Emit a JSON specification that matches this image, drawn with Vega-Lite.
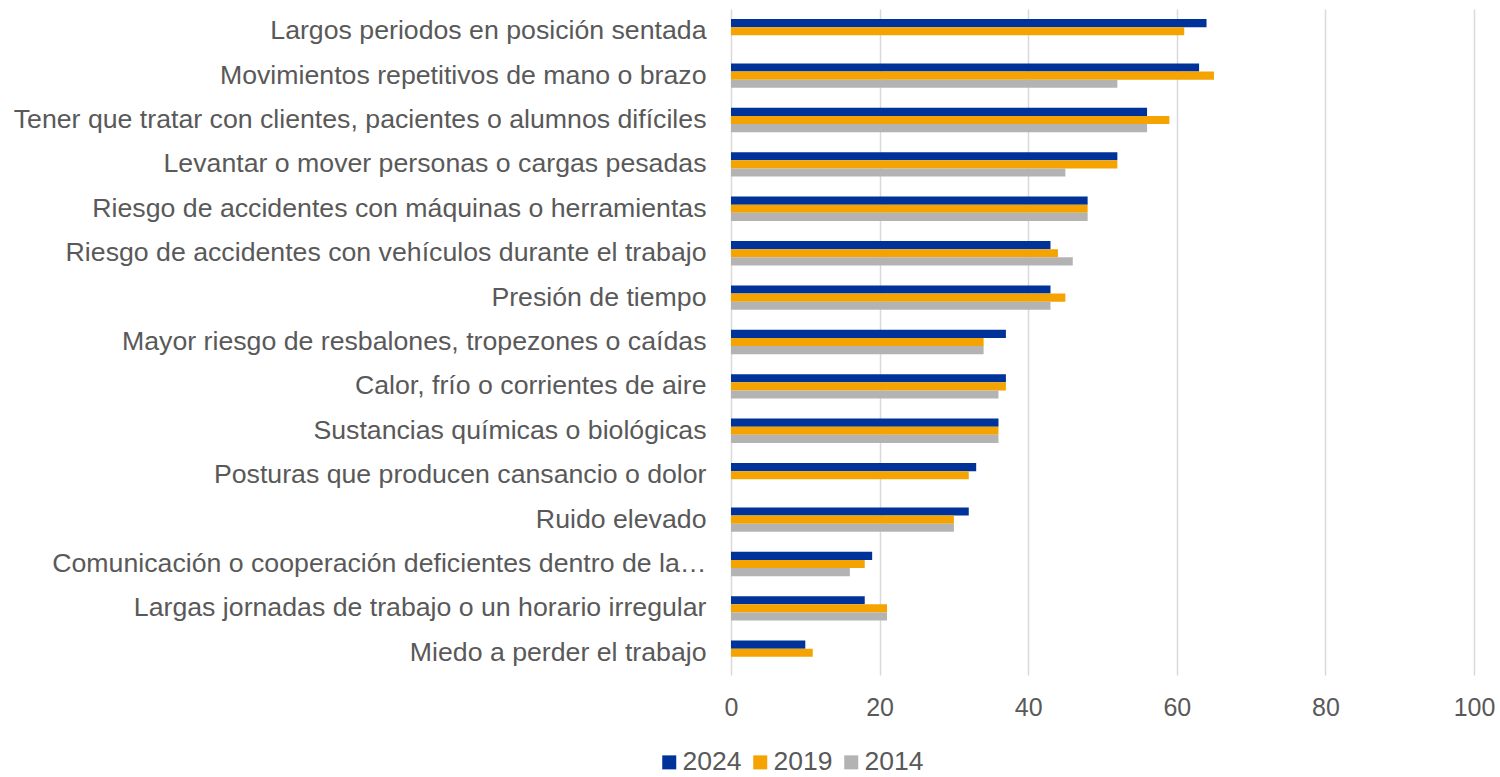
{
  "$schema": "https://vega.github.io/schema/vega-lite/v6.json",
  "autosize": {"type": "none"},
  "padding": {"left": 731, "top": 9, "right": 26, "bottom": 102},
  "width": 743,
  "height": 666,
  "background": "white",
  "config": {
    "view": {"stroke": null},
    "font": "Liberation Sans"
  },
  "data": {
    "values": [
      {"cat": "Largos periodos en posición sentada", "year": "2024", "value": 64},
      {"cat": "Largos periodos en posición sentada", "year": "2019", "value": 61},
      {"cat": "Movimientos repetitivos de mano o brazo", "year": "2024", "value": 63},
      {"cat": "Movimientos repetitivos de mano o brazo", "year": "2019", "value": 65},
      {"cat": "Movimientos repetitivos de mano o brazo", "year": "2014", "value": 52},
      {"cat": "Tener que tratar con clientes, pacientes o alumnos difíciles", "year": "2024", "value": 56},
      {"cat": "Tener que tratar con clientes, pacientes o alumnos difíciles", "year": "2019", "value": 59},
      {"cat": "Tener que tratar con clientes, pacientes o alumnos difíciles", "year": "2014", "value": 56},
      {"cat": "Levantar o mover personas o cargas pesadas", "year": "2024", "value": 52},
      {"cat": "Levantar o mover personas o cargas pesadas", "year": "2019", "value": 52},
      {"cat": "Levantar o mover personas o cargas pesadas", "year": "2014", "value": 45},
      {"cat": "Riesgo de accidentes con máquinas o herramientas", "year": "2024", "value": 48},
      {"cat": "Riesgo de accidentes con máquinas o herramientas", "year": "2019", "value": 48},
      {"cat": "Riesgo de accidentes con máquinas o herramientas", "year": "2014", "value": 48},
      {"cat": "Riesgo de accidentes con vehículos durante el trabajo", "year": "2024", "value": 43},
      {"cat": "Riesgo de accidentes con vehículos durante el trabajo", "year": "2019", "value": 44},
      {"cat": "Riesgo de accidentes con vehículos durante el trabajo", "year": "2014", "value": 46},
      {"cat": "Presión de tiempo", "year": "2024", "value": 43},
      {"cat": "Presión de tiempo", "year": "2019", "value": 45},
      {"cat": "Presión de tiempo", "year": "2014", "value": 43},
      {"cat": "Mayor riesgo de resbalones, tropezones o caídas", "year": "2024", "value": 37},
      {"cat": "Mayor riesgo de resbalones, tropezones o caídas", "year": "2019", "value": 34},
      {"cat": "Mayor riesgo de resbalones, tropezones o caídas", "year": "2014", "value": 34},
      {"cat": "Calor, frío o corrientes de aire", "year": "2024", "value": 37},
      {"cat": "Calor, frío o corrientes de aire", "year": "2019", "value": 37},
      {"cat": "Calor, frío o corrientes de aire", "year": "2014", "value": 36},
      {"cat": "Sustancias químicas o biológicas ", "year": "2024", "value": 36},
      {"cat": "Sustancias químicas o biológicas ", "year": "2019", "value": 36},
      {"cat": "Sustancias químicas o biológicas ", "year": "2014", "value": 36},
      {"cat": "Posturas que producen cansancio o dolor", "year": "2024", "value": 33},
      {"cat": "Posturas que producen cansancio o dolor", "year": "2019", "value": 32},
      {"cat": "Ruido elevado", "year": "2024", "value": 32},
      {"cat": "Ruido elevado", "year": "2019", "value": 30},
      {"cat": "Ruido elevado", "year": "2014", "value": 30},
      {"cat": "Comunicación o cooperación deficientes dentro de la…", "year": "2024", "value": 19},
      {"cat": "Comunicación o cooperación deficientes dentro de la…", "year": "2019", "value": 18},
      {"cat": "Comunicación o cooperación deficientes dentro de la…", "year": "2014", "value": 16},
      {"cat": "Largas jornadas de trabajo o un horario irregular", "year": "2024", "value": 18},
      {"cat": "Largas jornadas de trabajo o un horario irregular", "year": "2019", "value": 21},
      {"cat": "Largas jornadas de trabajo o un horario irregular", "year": "2014", "value": 21},
      {"cat": "Miedo a perder el trabajo", "year": "2024", "value": 10},
      {"cat": "Miedo a perder el trabajo", "year": "2019", "value": 11}
    ]
  },
  "mark": {"type": "bar"},
  "encoding": {
    "y": {
      "field": "cat",
      "type": "nominal",
      "sort": null,
      "title": null,
      "scale": {"paddingInner": 0.45, "paddingOuter": 0.225},
      "axis": {
        "domain": false,
        "ticks": false,
        "tickSize": 0,
        "labelPadding": 25,
        "labelFontSize": 26.7,
        "labelColor": "#595959",
        "labelLimit": 740
      }
    },
    "yOffset": {
      "field": "year",
      "type": "nominal",
      "sort": ["2024", "2019", "2014"],
      "scale": {"paddingInner": 0, "paddingOuter": 0}
    },
    "x": {
      "field": "value",
      "type": "quantitative",
      "title": null,
      "scale": {"domain": [0, 100], "nice": false},
      "axis": {
        "values": [0, 20, 40, 60, 80, 100],
        "domain": false,
        "ticks": false,
        "tickSize": 0,
        "grid": true,
        "gridColor": "#d9d9d9",
        "gridWidth": 1.5,
        "labelPadding": 20,
        "labelFontSize": 25,
        "labelColor": "#595959",
        "labelFlush": false
      }
    },
    "color": {
      "field": "year",
      "type": "nominal",
      "scale": {"domain": ["2024", "2019", "2014"], "range": ["#003399", "#F5A300", "#B3B3B3"]},
      "legend": {
        "title": null,
        "orient": "none",
        "direction": "horizontal",
        "legendX": -75,
        "legendY": 740,
        "symbolType": "square",
        "symbolSize": 196,
        "symbolStrokeWidth": 0,
        "labelFontSize": 26.5,
        "labelColor": "#595959",
        "labelOffset": 0,
        "columnPadding": 5
      }
    }
  }
}
